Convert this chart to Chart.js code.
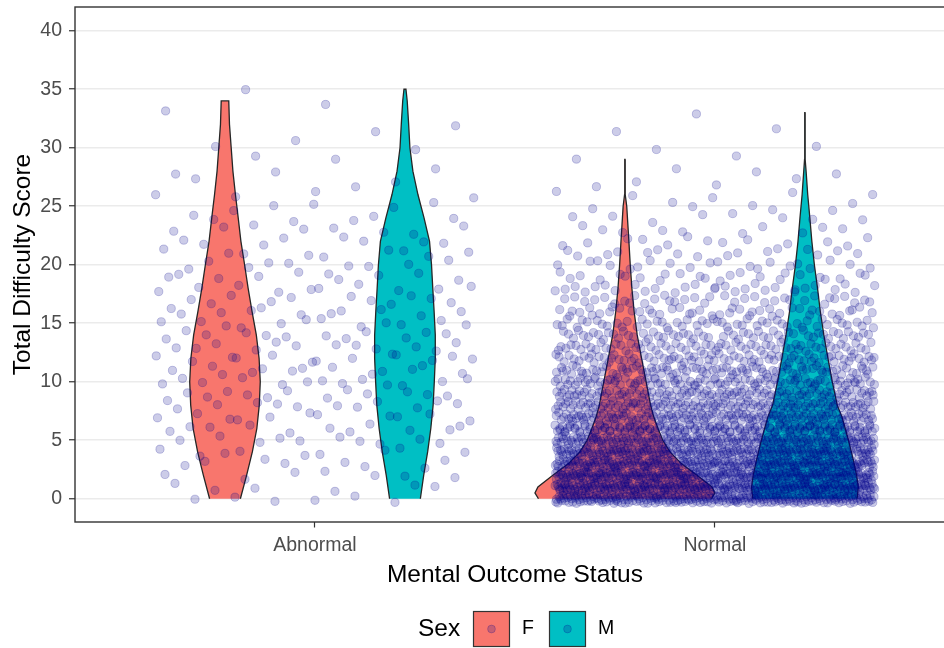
<!DOCTYPE html>
<html>
<head>
<meta charset="utf-8">
<title>Total Difficulty Score by Mental Outcome Status and Sex</title>
<script src="https://cdn.jsdelivr.net/npm/chart.js@4/dist/chart.umd.min.js"></script>
<style>
  html, body { margin: 0; padding: 0; background: #fff; overflow: hidden; }
  #wrap { position: relative; width: 960px; height: 648px; }
</style>
</head>
<body>
<div id="wrap"><canvas id="chart"></canvas></div>
<script>
// ---- data ----
const outcomes = ['Abnormal', 'Normal'];
const sexes = ['F', 'M'];
const sexColors = ['#F8766D', '#00BFC4'];
const yTicks = [0, 5, 10, 15, 20, 25, 30, 35, 40];

// number of children at each total score (index = score 0, 1, 2, ...)
const abnormalCounts = [6, 6, 7, 8, 9, 10, 11, 11, 12, 12, 13, 13, 13, 12, 12, 12, 11, 11, 10, 10,
                        9, 9, 8, 8, 6, 5, 4, 3, 3, 2, 2, 2, 1, 1, 1, 1];
const normalCounts = [265, 275, 265, 240, 220, 195, 172, 150, 132, 115, 103, 90, 78, 67, 58, 50, 42, 35, 29, 24,
                      20, 16, 13, 10, 8, 7, 5, 4, 3, 2, 2, 1, 1, 1];

// violin outlines: score levels and relative density (1 = widest violin)
const abnF_y = [0, 2, 4, 6, 8, 10, 12, 14, 16, 18, 20, 22, 24, 26, 28, 30, 32, 34];
const abnF_d = [.171, .240, .304, .354, .381, .392, .379, .348, .301, .257, .218, .177, .147, .116, .088, .069, .050, .042];
const abnM_y = [0, 2, 4, 6, 8, 10, 12, 14, 16, 18, 20, 22, 24, 26, 28, 30, 32, 34, 35];
const abnM_d = [.171, .208, .252, .287, .313, .326, .337, .337, .324, .309, .295, .273, .212, .144, .088, .055, .041, .025, .011];
const norF_y = [0, 0.5, 1, 2, 3, 4, 5, 6, 7, 8, 10, 12, 14, 16, 18, 20, 22, 24, 25, 26, 27, 28, 29];
const norF_d = [.961, 1, .967, .801, .627, .501, .420, .368, .320, .285, .235, .185, .136, .102, .077, .059, .044, .028, .020, .004, .003, .002, .001];
const norM_y = [0, 1, 2, 3, 4, 5, 6, 7, 8, 10, 12, 14, 16, 18, 20, 22, 24, 26, 28, 29, 30, 31, 32, 33];
const norM_d = [.580, .593, .575, .547, .516, .484, .448, .411, .359, .304, .256, .210, .171, .140, .105, .077, .055, .031, .013, .004, .003, .002, .002, .001];

// ---- geometry helpers ----
const DODGE = 0.225;      // offset of each sex within an outcome
const MAX_HALF = 0.225;   // half width of the widest violin (x units)
const JITTER_W = 0.4;
const JITTER_H = 0.4;

function violinPolygon(center, ys, dens) {
  const left = ys.map((y, i) => ({ x: center - dens[i] * MAX_HALF, y }));
  const right = ys.map((y, i) => ({ x: center + dens[i] * MAX_HALF, y })).reverse();
  return left.concat(right);
}

// repeatable, evenly spread jitter (Halton sequence, bases 2 and 3)
function halton(i, b) {
  let f = 1, r = 0;
  while (i > 0) { f /= b; r += f * (i % b); i = Math.floor(i / b); }
  return r;
}
function jitteredPoints(center, counts, start) {
  const pts = [];
  let n = start;
  counts.forEach((c, score) => {
    for (let k = 0; k < c; k++, n++) {
      const jx = halton(n, 2) * 2 - 1;
      const jy = halton(n, 3) * 2 - 1;
      pts.push({ x: center + jx * JITTER_W, y: score + jy * JITTER_H });
    }
  });
  return pts;
}

const violins = [
  { group: 0, sex: 0, ys: abnF_y, d: abnF_d },
  { group: 0, sex: 1, ys: abnM_y, d: abnM_d },
  { group: 1, sex: 0, ys: norF_y, d: norF_d },
  { group: 1, sex: 1, ys: norM_y, d: norM_d }
];

const pointData = jitteredPoints(1, abnormalCounts, 1).concat(jitteredPoints(2, normalCounts, 517));

const datasets = [
  {
    type: 'scatter',
    label: 'children',
    data: pointData,
    pointRadius: 4.1,
    pointHoverRadius: 4.1,
    backgroundColor: 'rgba(0,0,139,0.2)',
    borderColor: 'rgba(0,0,139,0.22)',
    borderWidth: 1,
    order: 0
  }
].concat(violins.map(v => ({
  type: 'line',
  label: outcomes[v.group] + ' ' + sexes[v.sex],
  data: violinPolygon(v.group + 1 + (v.sex === 0 ? -DODGE : DODGE), v.ys, v.d),
  fill: 'shape',
  backgroundColor: sexColors[v.sex],
  borderColor: '#262626',
  borderWidth: 1.3,
  pointRadius: 0,
  tension: 0,
  order: 1
})));

// ---- plugins ----
const panelBorder = {
  id: 'panelBorder',
  afterDatasetsDraw(chart) {
    const { ctx, chartArea: a } = chart;
    ctx.save();
    ctx.strokeStyle = '#333333';
    ctx.lineWidth = 1.4;
    ctx.strokeRect(a.left, a.top, a.right - a.left, a.bottom - a.top);
    ctx.restore();
  }
};

const sexLegend = {
  id: 'sexLegend',
  afterDraw(chart) {
    const { ctx } = chart;
    const cy = 629;
    ctx.save();
    ctx.textBaseline = 'middle';
    ctx.fillStyle = '#000';
    ctx.font = '24.5px "Liberation Sans", Arial, sans-serif';
    ctx.fillText('Sex', 418, cy);
    const boxX = [473.5, 549.5];
    const textX = [522, 598];
    sexes.forEach((s, i) => {
      ctx.fillStyle = sexColors[i];
      ctx.fillRect(boxX[i], 611.5, 36, 35);
      ctx.strokeStyle = '#333333';
      ctx.lineWidth = 1.2;
      ctx.strokeRect(boxX[i], 611.5, 36, 35);
      ctx.beginPath();
      ctx.arc(boxX[i] + 18, 611.5 + 17.5, 3.9, 0, Math.PI * 2);
      ctx.fillStyle = 'rgba(0,0,139,0.2)';
      ctx.fill();
      ctx.strokeStyle = 'rgba(0,0,139,0.22)';
      ctx.lineWidth = 1;
      ctx.stroke();
      ctx.fillStyle = '#000';
      ctx.font = '19.5px "Liberation Sans", Arial, sans-serif';
      ctx.fillText(s, textX[i], cy);
    });
    ctx.restore();
  }
};

Chart.defaults.font.family = '"Liberation Sans", Arial, sans-serif';

new Chart(document.getElementById('chart'), {
  type: 'scatter',
  data: { datasets },
  plugins: [panelBorder, sexLegend],
  options: {
    responsive: true,
    maintainAspectRatio: false,
    animation: false,
    events: [],
    layout: { padding: { top: 7, right: 3, left: 0, bottom: 0 } },
    plugins: { legend: { display: false }, tooltip: { enabled: false } },
    scales: {
      x: {
        type: 'linear',
        min: 0.4,
        max: 2.6,
        afterBuildTicks: s => { s.ticks = outcomes.map((_, i) => ({ value: i + 1 })); },
        afterFit: s => { s.height = 126; s.paddingLeft = 0; s.paddingRight = 0; },
        ticks: {
          callback: (v, i) => outcomes[i],
          font: { size: 19.5 },
          color: '#4d4d4d',
          padding: 6,
          maxRotation: 0,
          autoSkip: false
        },
        grid: { drawOnChartArea: false, drawTicks: true, tickLength: 5.5, tickColor: '#333333', tickWidth: 1.2 },
        border: { display: false },
        title: {
          display: true,
          text: 'Mental Outcome Status',
          font: { size: 24.5 },
          color: '#000',
          padding: { top: 0, bottom: 58.5 }
        }
      },
      y: {
        type: 'linear',
        min: -1.99,
        max: 42.03,
        afterBuildTicks: s => { s.ticks = yTicks.map(v => ({ value: v })); },
        afterFit: s => { s.width = 75; s.paddingTop = 0; s.paddingBottom = 0; },
        ticks: { font: { size: 19.5 }, color: '#4d4d4d', padding: 7 },
        grid: { color: '#ebebeb', lineWidth: 1.5, drawTicks: true, tickLength: 6, tickColor: '#333333', tickWidth: 1.2 },
        border: { display: false },
        title: {
          display: true,
          text: 'Total Difficulty Score',
          font: { size: 24.5 },
          color: '#000',
          padding: { top: 8.5, bottom: 0 }
        }
      }
    }
  }
});
</script>
</body>
</html>
